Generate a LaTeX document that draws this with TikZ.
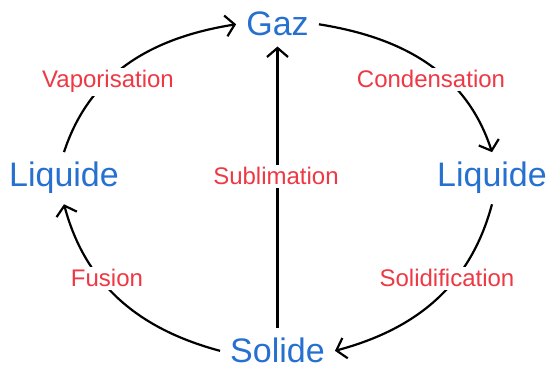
\documentclass[tikz,border=0pt]{standalone}
\usepackage{fontspec}
\setmainfont{Liberation Sans}
\usepackage{xcolor}
\usepackage{tikz}
\usetikzlibrary{arrows.meta,positioning}
\definecolor{etatblue}{RGB}{38,112,208}
\definecolor{etapered}{RGB}{238,56,68}

\begin{document}
\begin{tikzpicture}[
    x=1pt, y=1pt,
    etat/.style={text=etatblue, font=\fontsize{34}{40}\selectfont, inner sep=10pt, anchor=base},
    etape/.style={text=etapered, font=\fontsize{24}{28}\selectfont, fill=white, inner sep=3pt, anchor=base},
    fleche/.style={line width=2.2pt, -{Straight Barb[length=9pt, width=21pt]}},
]
    \useasboundingbox (0,0) rectangle (550,370);
    % states
    \node[etat] (gaz) at (277.5,334) {Gaz};
    \node[etat] (liqg) at (64,183) {Liquide};
    \node[etat] (liqd) at (492,183) {Liquide};
    \node[etat] (solide) at (277.5,7) {Solide};
    % transitions round the cycle
    \draw[fleche] (liqg.north) to[out=72, in=189] (gaz.west);
    \draw[fleche] (gaz.east) to[out=-9, in=108] (liqd.north);
    \draw[fleche] (liqd.south) to[out=255, in=15] (solide.east);
    \draw[fleche] (solide.west) to[out=165, in=-75] (liqg.south);
    % straight up through the middle
    \draw[fleche] (solide.north) -- (gaz.south);
    % Labels (white fill breaks the lines)
    \node[etape] (vap) at (108,282) {Vaporisation};
    \node[etape] (cond) at (431,282) {Condensation};
    \node[etape] (subl) at (276,185) {Sublimation};
    \node[etape] (fus) at (107,83) {Fusion};
    \node[etape] (solid) at (447,83) {Solidification};
\end{tikzpicture}
\end{document}
